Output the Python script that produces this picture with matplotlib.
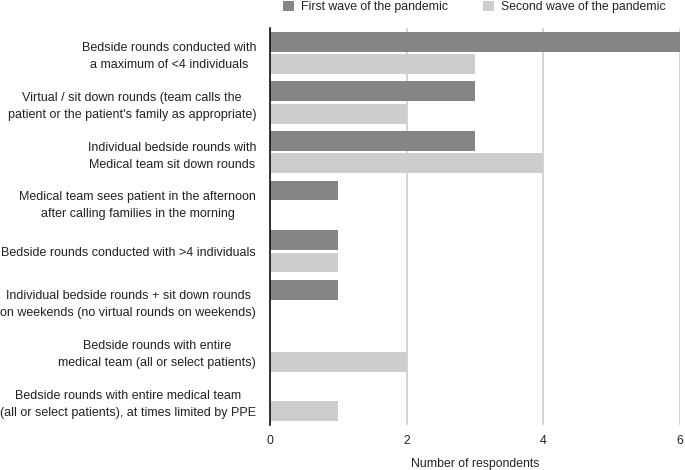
import numpy as np
import matplotlib
matplotlib.use("Agg")
import matplotlib.pyplot as plt
from matplotlib.patches import Patch

plt.rcParams['font.family'] = ['Liberation Sans', 'DejaVu Sans']

categories = [
    "Bedside rounds conducted with\na maximum of <4 individuals",
    "Virtual / sit down rounds (team calls the\npatient or the patient's family as appropriate)",
    "Individual bedside rounds with\nMedical team sit down rounds",
    "Medical team sees patient in the afternoon\nafter calling families in the morning",
    "Bedside rounds conducted with >4 individuals",
    "Individual bedside rounds + sit down rounds\non weekends (no virtual rounds on weekends)",
    "Bedside rounds with entire\nmedical team (all or select patients)",
    "Bedside rounds with entire medical team\n(all or select patients), at times limited by PPE",
]
first_wave = [6, 3, 3, 1, 1, 1, 0, 0]
second_wave = [3, 2, 4, 0, 1, 0, 2, 1]
series_names = ["First wave of the pandemic", "Second wave of the pandemic"]
x_ticks = [0, 2, 4, 6]

dark = "#858585"
light = "#cdcdcd"
fs = 8.8
fs_y = 9.0

fig = plt.figure(figsize=(6.85, 4.70), dpi=100)
ax = fig.add_axes([270 / 685, 45 / 470, 410 / 685, 397 / 470])

y = np.arange(len(categories))
ax.barh(y - 0.225, first_wave, height=0.4, color=dark, zorder=3)
ax.barh(y + 0.225, second_wave, height=0.4, color=light, zorder=3)

ax.set_ylim(len(categories) - 0.5, -0.5)
ax.set_xlim(0, 6)
ax.set_xticks(x_ticks)
ax.set_xticklabels([str(t) for t in x_ticks], fontsize=fs, color="#222222")
ax.set_yticks(y)
ax.set_yticklabels(categories, fontsize=fs_y, color="#222222",
                   multialignment="center", linespacing=1.55)
ax.tick_params(axis="both", length=0)
ax.tick_params(axis="x", pad=7)
ax.tick_params(axis="y", pad=10)

ax.xaxis.grid(True, color="#cccccc", linewidth=1.2, zorder=0)
ax.set_axisbelow(True)
for side in ["top", "right", "bottom"]:
    ax.spines[side].set_visible(False)
ax.spines["left"].set_color("#111111")
ax.spines["left"].set_linewidth(1.2)
ax.spines["left"].set_zorder(4)

ax.set_xlabel("Number of respondents", fontsize=fs, color="#222222", labelpad=8)

handles = [Patch(facecolor=dark, edgecolor="none"), Patch(facecolor=light, edgecolor="none")]
fig.legend(handles, series_names, loc="upper left", bbox_to_anchor=(272 / 685, 1.022),
           ncol=2, frameon=False, fontsize=fs, handlelength=0.9, handleheight=0.9,
           columnspacing=2.8, handletextpad=0.6, labelcolor="#222222")

fig.savefig("out.png", dpi=100)
